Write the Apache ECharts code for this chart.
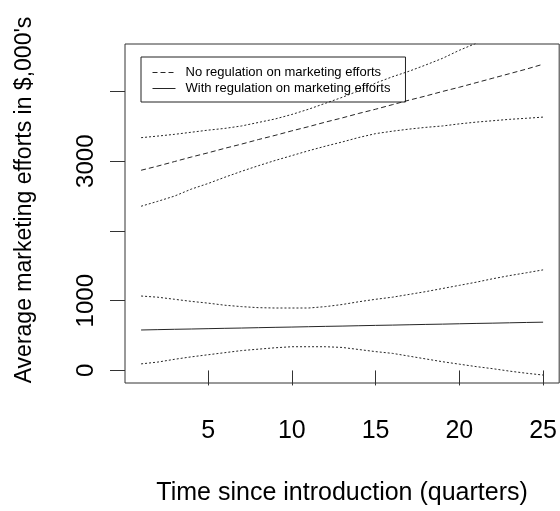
<!DOCTYPE html>
<html>
<head>
<meta charset="utf-8">
<script src="https://cdn.jsdelivr.net/npm/echarts@6/dist/echarts.min.js"></script>
<style>
    html, body { margin: 0; padding: 0; background: #fff; }
    #chart { width: 560px; height: 511px; }
</style>
</head>
<body>
<div id="chart"></div>
<script>
// quarters since introduction
var quarters = [1, 2, 3, 4, 5, 6, 7, 8, 9, 10, 11, 12, 13, 14, 15, 16, 17, 18, 19, 20, 21, 22, 23, 24, 25];

// no regulation: mean and band
var noRegMean = [2870, 2930, 2995, 3060, 3120, 3185, 3245, 3310, 3370, 3435, 3495, 3560, 3620,
    3685, 3745, 3810, 3875, 3935, 4000, 4060, 4125, 4190, 4255, 4320, 4390];
var noRegUpper = [3337, 3360, 3385, 3415, 3445, 3470, 3505, 3555, 3605, 3670, 3745, 3830, 3915,
    4010, 4120, 4210, 4290, 4380, 4475, 4590, 4690, 4800, 4910, 5020, 5130];
var noRegLower = [2354, 2425, 2500, 2600, 2680, 2770, 2855, 2935, 3010, 3080, 3150, 3215, 3275,
    3340, 3395, 3430, 3460, 3485, 3505, 3535, 3560, 3580, 3600, 3615, 3632];

// with regulation: mean and band
var regMean = [580, 585, 590, 594, 599, 604, 608, 613, 618, 622, 627, 632, 636,
    641, 646, 650, 655, 660, 664, 669, 674, 678, 683, 688, 692];
var regUpper = [1067, 1050, 1020, 990, 965, 935, 915, 900, 895, 895, 895, 915, 945,
    985, 1020, 1050, 1090, 1130, 1175, 1220, 1265, 1315, 1360, 1400, 1442];
var regLower = [94, 120, 160, 195, 225, 255, 285, 305, 325, 340, 340, 340, 330,
    300, 270, 245, 205, 165, 125, 90, 55, 25, -10, -40, -66];

var xTicks = [5, 10, 15, 20, 25];
var yTicks = [0, 1000, 2000, 3000, 4000];
var yLabels = [0, 1000, 3000];

var nameNoReg = 'No regulation on marketing efforts';
var nameReg = 'With regulation on marketing efforts';

function pairs(ys) {
    var out = [];
    for (let i = 0; i < quarters.length; i++) {
        out.push([quarters[i], ys[i]]);
    }
    return out;
}

function lineSeries(name, ys, dash) {
    return {
        name: name,
        type: 'line',
        symbol: 'none',
        silent: true,
        clip: true,
        data: pairs(ys),
        itemStyle: { color: '#262626' },
        lineStyle: { color: '#262626', width: 1, type: dash }
    };
}

var font = '"Liberation Sans", Arial, sans-serif';
var myChart = echarts.init(document.getElementById('chart'));

var option = {
    animation: false,
    backgroundColor: '#fff',
    grid: {
        left: 125, top: 44, width: 436, height: 344,
        show: true, borderColor: '#333', borderWidth: 1, backgroundColor: 'transparent'
    },
    legend: {
        data: [nameNoReg, nameReg],
        orient: 'vertical',
        left: 141, top: 57,
        itemWidth: 23, itemHeight: 12, itemGap: 3,
        padding: [9, 15, 7, 11],
        borderColor: '#222', borderWidth: 1,
        selectedMode: false,
        itemStyle: { opacity: 0 },
        lineStyle: { width: 1 },
        textStyle: { fontFamily: font, fontSize: 13, color: '#000', padding: [0, 0, 0, 5] }
    },
    xAxis: {
        type: 'value',
        min: 0.04, max: 25.96,
        name: 'Time since introduction (quarters)',
        nameLocation: 'middle',
        nameGap: 98,
        nameTextStyle: { fontFamily: font, fontSize: 25, color: '#000' },
        axisLine: { show: false },
        splitLine: { show: false },
        axisTick: { show: true, length: 15, customValues: xTicks, lineStyle: { color: '#333' } },
        axisLabel: { customValues: xTicks, fontFamily: font, fontSize: 25, color: '#000', margin: 36 }
    },
    yAxis: {
        type: 'value',
        min: -180, max: 4680,
        axisLine: { show: false },
        splitLine: { show: false },
        axisTick: { show: true, length: 15, customValues: yTicks, lineStyle: { color: '#333' } },
        axisLabel: {
            customValues: yLabels, rotate: 90,
            formatter: function (v) { return String(v); },
            fontFamily: font, fontSize: 24, color: '#000', margin: 27
        }
    },
    graphic: [{
        type: 'text',
        x: 25, y: 200,
        rotation: Math.PI / 2,
        style: {
            text: "Average marketing efforts in $,000's",
            fontFamily: font, fontSize: 23, fill: '#000',
            align: 'center', verticalAlign: 'middle'
        }
    }],
    series: [
        lineSeries(nameNoReg, noRegMean, [5, 3]),
        lineSeries('', noRegUpper, [2, 2]),
        lineSeries('', noRegLower, [2, 2]),
        lineSeries(nameReg, regMean, 'solid'),
        lineSeries('', regUpper, [2, 2]),
        lineSeries('', regLower, [2, 2])
    ]
};

myChart.setOption(option);
</script>
</body>
</html>
